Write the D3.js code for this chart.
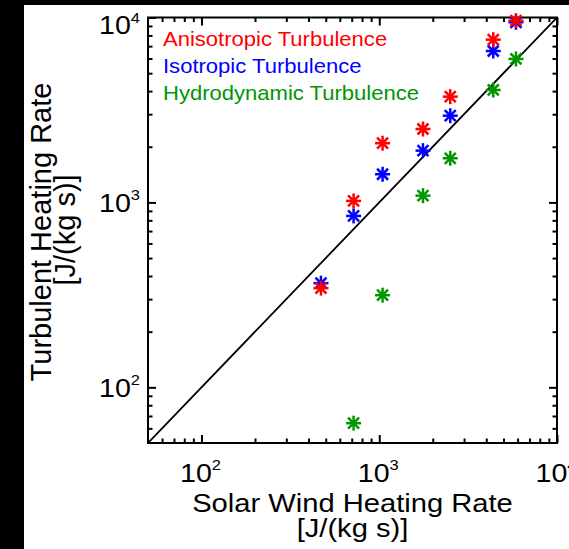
<!DOCTYPE html>
<html>
<head>
<meta charset="utf-8">
<script src="https://cdn.jsdelivr.net/npm/d3@7"></script>
<style>
  html, body { margin: 0; padding: 0; background: #000; }
  svg { display: block; }
  text { font-family: "Liberation Sans", Arial, Helvetica, sans-serif; fill: #000; }
</style>
</head>
<body>
<svg id="chart" width="569" height="549"></svg>
<script>
// Heating rates, J/(kg s)
const solarWind    = [470, 717, 1044, 1762, 2509, 4380, 5875];
const anisotropic  = [344, 1019, 2090, 2495, 3733, 7590, 9615];
const isotropic    = [366, 845, 1420, 1906, 2944, 6590, 9420];
const hydroWind    = [717, 1044, 1762, 2509, 4380, 5875];
const hydrodynamic = [64, 315, 1088, 1733, 4055, 5970];

const seriesNames  = ["Anisotropic Turbulence", "Isotropic Turbulence", "Hydrodynamic Turbulence"];
const seriesColors = ["#ff0000", "#0000ff", "#009600"];

const majorTicks = [100, 1000, 10000];
const tickExponents = ["2", "3", "4"];
const minorTicks = [60, 70, 80, 90, 200, 300, 400, 500, 600, 700, 800, 900,
                    2000, 3000, 4000, 5000, 6000, 7000, 8000, 9000];

const xTitle = "Solar Wind Heating Rate";
const yTitle = "Turbulent Heating Rate";
const unitTitle = "[J/(kg s)]";

const svg = d3.select("#chart");
const W = 569, H = 549;

// white canvas with dark margins on the left and top
svg.append("rect").attr("x", 0).attr("y", 0).attr("width", W).attr("height", H).attr("fill", "#000");
svg.append("rect").attr("x", 24).attr("y", 5).attr("width", W - 24).attr("height", H - 5).attr("fill", "#fff");

const plot = { left: 148, right: 557, top: 17.5, bottom: 443 };
const x = d3.scaleLog().domain([50, 10000]).range([plot.left, plot.right]);
const y = d3.scaleLog().domain([50, 10000]).range([plot.bottom, plot.top]);

const SX = 1.1; // horizontal stretch of upright lettering

// ticks on all four sides, pointing inward
function addAxis(axisGen, transform, size, values) {
  const g = svg.append("g").attr("transform", transform)
    .call(axisGen.tickValues(values).tickSize(size).tickSizeOuter(0).tickFormat(""));
  g.select(".domain").remove();
  g.selectAll(".tick line").attr("stroke", "#000").attr("stroke-width", 2);
  return g;
}
addAxis(d3.axisBottom(x), `translate(0,${plot.bottom})`, -8, majorTicks);
addAxis(d3.axisBottom(x), `translate(0,${plot.bottom})`, -4.5, minorTicks);
addAxis(d3.axisTop(x), `translate(0,${plot.top})`, -8, majorTicks);
addAxis(d3.axisTop(x), `translate(0,${plot.top})`, -4.5, minorTicks);
addAxis(d3.axisLeft(y), `translate(${plot.left},0)`, -8, majorTicks);
addAxis(d3.axisLeft(y), `translate(${plot.left},0)`, -4.5, minorTicks);
addAxis(d3.axisRight(y), `translate(${plot.right},0)`, -8, majorTicks);
addAxis(d3.axisRight(y), `translate(${plot.right},0)`, -4.5, minorTicks);

// frame
svg.append("rect")
  .attr("x", plot.left).attr("y", plot.top)
  .attr("width", plot.right - plot.left).attr("height", plot.bottom - plot.top)
  .attr("fill", "none").attr("stroke", "#000").attr("stroke-width", 2);

// one-to-one line
svg.append("clipPath").attr("id", "plotclip").append("rect")
  .attr("x", plot.left).attr("y", plot.top)
  .attr("width", plot.right - plot.left).attr("height", plot.bottom - plot.top);
svg.append("line")
  .attr("clip-path", "url(#plotclip)")
  .attr("x1", x(50)).attr("y1", y(50)).attr("x2", x(10000)).attr("y2", y(10000))
  .attr("stroke", "#000").attr("stroke-width", 1.8);

// tick labels 10^n
function powerLabel(px, py, exp, anchor) {
  const t = svg.append("text")
    .attr("transform", `translate(${px},${py}) scale(${SX},1)`)
    .attr("text-anchor", anchor)
    .style("font-size", "26px");
  t.append("tspan").text("10");
  t.append("tspan").attr("dy", -11.5).style("font-size", "15px").text(exp);
  return t;
}
majorTicks.forEach((v, i) => {
  powerLabel(x(v) - 1, plot.bottom + 38.5, tickExponents[i], "middle");
  // keep the top label inside the canvas
  powerLabel(plot.left - 8, Math.max(y(v) + 9.5, 34), tickExponents[i], "end");
});

// axis titles
svg.append("text")
  .attr("transform", `translate(${(plot.left + plot.right) / 2},512) scale(${SX},1)`)
  .attr("text-anchor", "middle").style("font-size", "26.5px").text(xTitle);
svg.append("text")
  .attr("transform", `translate(${(plot.left + plot.right) / 2},537) scale(${SX},1)`)
  .attr("text-anchor", "middle").style("font-size", "26.5px").text(unitTitle);
svg.append("text")
  .attr("transform", `translate(50.5,232) rotate(-90)`)
  .attr("text-anchor", "middle").style("font-size", "29px").text(yTitle);
svg.append("text")
  .attr("transform", `translate(74.5,230) rotate(-90)`)
  .attr("text-anchor", "middle").style("font-size", "29px").text(unitTitle);

// legend
seriesNames.forEach((name, i) => {
  svg.append("text")
    .attr("transform", `translate(163,${46 + i * 27}) scale(1.05,1)`)
    .style("font-size", "21px").style("fill", seriesColors[i]).text(name);
});

// asterisk markers
const arms = [[-7.5, 0, 7.5, 0], [0, -7.5, 0, 7.5], [-5.5, -5.5, 5.5, 5.5], [-5.5, 5.5, 5.5, -5.5]];
function asterisks(xs, ys, color) {
  const g = svg.append("g").attr("stroke", color).attr("stroke-width", 2.5);
  const pts = g.selectAll("g").data(xs.map((d, i) => [d, ys[i]])).join("g")
    .attr("transform", d => `translate(${x(d[0])},${y(d[1])})`);
  pts.selectAll("line").data(arms).join("line")
    .attr("x1", a => a[0]).attr("y1", a => a[1]).attr("x2", a => a[2]).attr("y2", a => a[3]);
}
asterisks(solarWind, isotropic, seriesColors[1]);
asterisks(solarWind, anisotropic, seriesColors[0]);
asterisks(hydroWind, hydrodynamic, seriesColors[2]);
</script>
</body>
</html>
